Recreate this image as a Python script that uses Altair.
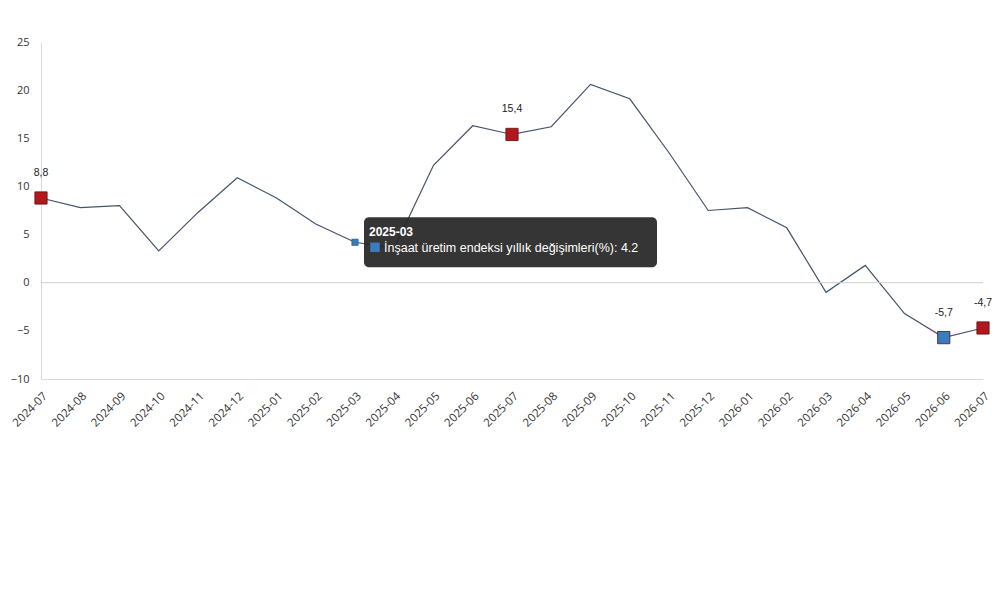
import altair as alt
import pandas as pd

months = ["2024-07", "2024-08", "2024-09", "2024-10", "2024-11", "2024-12",
          "2025-01", "2025-02", "2025-03", "2025-04", "2025-05", "2025-06",
          "2025-07", "2025-08", "2025-09", "2025-10", "2025-11", "2025-12",
          "2026-01", "2026-02", "2026-03", "2026-04", "2026-05", "2026-06",
          "2026-07"]
values = [8.8, 7.8, 8.0, 3.3, 7.3, 10.9, 8.8, 6.1, 4.2, 3.6, 12.2, 16.3,
          15.4, 16.2, 20.6, 19.1, 13.5, 7.5, 7.8, 5.7, -1.0, 1.8, -3.2, -5.7,
          -4.7]
series_name = "İnşaat üretim endeksi yıllık değişimleri(%)"

hl_months = ["2024-07", "2025-07", "2026-06", "2026-07"]
hl_colors = ["#b3171c", "#b3171c", "#3a7dbf", "#b3171c"]
hl_labels = ["8,8", "15,4", "-5,7", "-4,7"]

tip_month = "2025-03"

df = pd.DataFrame({"month": months, "value": values})
val_map = dict(zip(months, values))
hl = pd.DataFrame({"month": hl_months,
                   "value": [val_map[m] for m in hl_months],
                   "color": hl_colors,
                   "label": hl_labels})
tip = pd.DataFrame({"month": [tip_month], "value": [val_map[tip_month]],
                    "line2": [f"{series_name}: {val_map[tip_month]}"]})
zero = pd.DataFrame({"value": [0]})

x_enc = alt.X("month:O", sort=months,
              scale=alt.Scale(type="point", padding=0),
              axis=alt.Axis(title=None, labelAngle=-45, ticks=False,
                            domainColor="#d9d9d9", labelFontSize=11.5,
                            labelColor="#333333", labelPadding=11,
                            labelFont="Open Sans"))
y_enc = alt.Y("value:Q", scale=alt.Scale(domain=[-10, 25], nice=False),
              axis=alt.Axis(title=None, values=[-10, -5, 0, 5, 10, 15, 20, 25],
                            grid=False, ticks=False, domainColor="#d9d9d9",
                            labelFontSize=11, labelColor="#333333",
                            labelPadding=12, labelFont="Open Sans"))

line = alt.Chart(df).mark_line(color="#44546a", strokeWidth=1.2).encode(
    x=x_enc, y=y_enc)

zero_rule = alt.Chart(zero).mark_rule(color="#d0d0d0", strokeWidth=1).encode(
    y=alt.Y("value:Q"))

markers = alt.Chart(hl).mark_square(size=150, opacity=1, stroke="#5a1010",
                                    strokeWidth=0.8).encode(
    x=alt.X("month:O", sort=months), y="value:Q",
    color=alt.Color("color:N", scale=None))

labels = alt.Chart(hl).mark_text(dy=-25, fontSize=10.5, color="#222222",
                                 font="Liberation Sans").encode(
    x=alt.X("month:O", sort=months), y="value:Q", text="label:N")

tip_base = alt.Chart(tip).encode(x=alt.X("month:O", sort=months), y="value:Q")

tip_box = tip_base.mark_rect(color="#262626", opacity=0.93, cornerRadius=5,
                             xOffset=9, x2Offset=302, yOffset=-25,
                             y2Offset=25).encode(
    x2=alt.X2("month:O"), y2=alt.Y2("value:Q"))

tip_point = tip_base.mark_square(size=40, color="#3a7dbf", opacity=1,
                                 stroke="#1f4f80", strokeWidth=0.6)

tip_title = tip_base.mark_text(align="left", baseline="alphabetic", dx=14,
                               dy=-6, fontSize=12, fontWeight="bold",
                               color="white", font="Liberation Sans").encode(
    text="month:N")

tip_sq = tip_base.mark_square(size=90, color="#3a7dbf", opacity=1,
                              xOffset=20, yOffset=5)

tip_text = tip_base.mark_text(align="left", baseline="alphabetic", dx=29,
                              dy=10, fontSize=12.5, color="white",
                              font="Liberation Sans").encode(text="line2:N")

chart = alt.layer(line, zero_rule, markers, labels, tip_box, tip_point,
                  tip_title, tip_sq, tip_text).properties(
    width=942, height=337,
    background="white",
    autosize=alt.AutoSizeParams(type="none"),
    padding={"left": 33, "top": 34, "right": 9, "bottom": 60},
).configure_view(strokeWidth=0)

chart.save("out.html", embed_options={"renderer": "svg", "actions": False})
